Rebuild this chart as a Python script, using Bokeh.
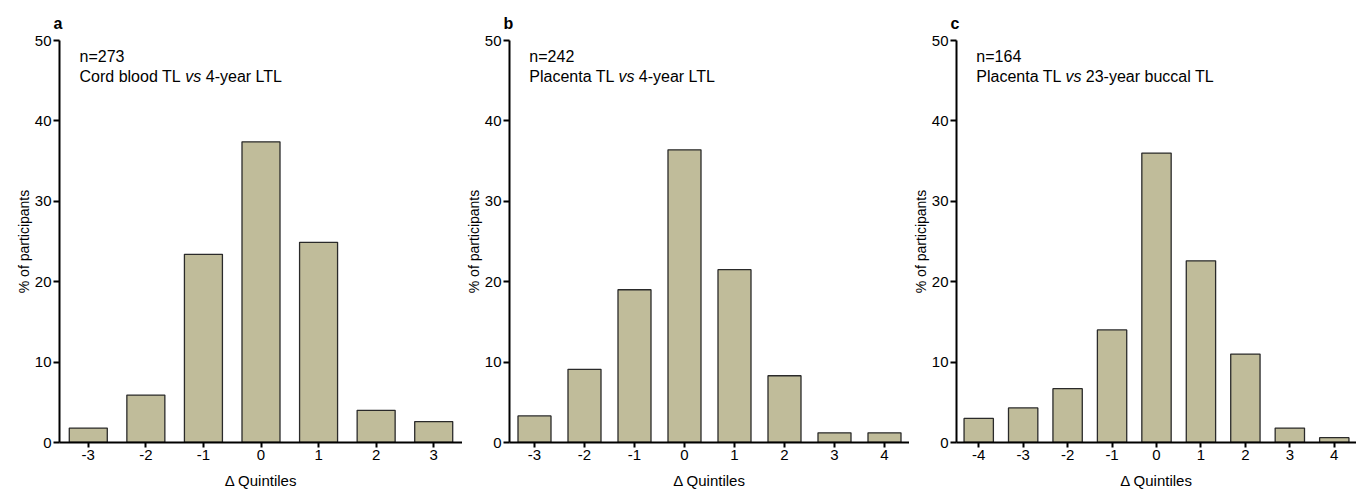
from bokeh.plotting import figure
from bokeh.layouts import row
from bokeh.models import Label, Range1d, FixedTicker
from bokeh.embed import file_html
from bokeh.resources import INLINE

# ---- data ----
cats_a = [-3, -2, -1, 0, 1, 2, 3]
vals_a = [1.8, 5.9, 23.4, 37.4, 24.9, 4.0, 2.6]
cats_b = [-3, -2, -1, 0, 1, 2, 3, 4]
vals_b = [3.3, 9.1, 19.0, 36.4, 21.5, 8.3, 1.2, 1.2]
cats_c = [-4, -3, -2, -1, 0, 1, 2, 3, 4]
vals_c = [3.0, 4.3, 6.7, 14.0, 36.0, 22.6, 11.0, 1.8, 0.6]
n_values = [273, 242, 164]
panel_letters = ["a", "b", "c"]
text_before = ["Cord blood TL", "Placenta TL", "Placenta TL"]
text_italic = ["vs", "vs", "vs"]
text_after = ["4-year LTL", "4-year LTL", "23-year buccal TL"]
y_ticks = [0, 10, 20, 30, 40, 50]
x_label = "\u0394 Quintiles"
y_label = "% of participants"

FONT = "Liberation Sans"
FILL = "#c0bc9a"

# Arial / Liberation Sans advance widths (per 1000 em)
AW = {" ": 278, "-": 333, "=": 584, "C": 722, "L": 556, "T": 611, "P": 667,
      "a": 556, "b": 556, "c": 500, "d": 556, "e": 556, "l": 222, "n": 556,
      "o": 556, "r": 333, "t": 278, "u": 556, "y": 500, "v": 500, "s": 500}
for d in "0123456789":
    AW[d] = 556


def text_width(s, size):
    return sum(AW.get(ch, 556) for ch in s) * size / 1000.0


FW, FH = 403, 402
TOP, BOTTOM = 40, 50
ANN = 16


def make(cats, vals, letter, n, pre, ital, post, left, total_w):
    xs, xe = min(cats) - 0.5, max(cats) + 0.5
    p = figure(width=total_w, height=TOP + FH + BOTTOM,
               x_range=Range1d(xs, xe), y_range=Range1d(0, 50),
               output_backend="svg", toolbar_location=None,
               min_border_left=left, min_border_right=0,
               min_border_top=TOP, min_border_bottom=BOTTOM)
    p.outline_line_color = None
    p.grid.visible = False
    p.background_fill_color = "white"
    p.border_fill_color = "white"

    p.title.text = letter
    p.title.align = "left"
    p.title.offset = -6
    p.title.standoff = 17
    p.title.text_font = FONT
    p.title.text_font_style = "bold"
    p.title.text_font_size = "16px"
    p.title.text_color = "black"

    p.vbar(x=cats, top=vals, width=0.66, bottom=0,
           fill_color=FILL, line_color="#2a2a2a", line_width=1.3)

    ppx = FW / (xe - xs)
    ppy = FH / 50.0

    for ax in (p.xaxis[0], p.yaxis[0]):
        ax.axis_line_width = 2
        ax.axis_line_color = "black"
        ax.major_tick_line_width = 2
        ax.major_tick_line_color = "black"
        ax.major_tick_in = 0
        ax.minor_tick_line_color = None
        ax.major_label_text_font = FONT
        ax.major_label_text_font_size = "15px"
        ax.major_label_text_color = "black"
        ax.axis_label_text_font = FONT
        ax.axis_label_text_font_style = "normal"
        ax.axis_label_text_color = "black"

    xa = p.xaxis[0]
    xa.ticker = FixedTicker(ticks=cats)
    xa.major_label_overrides = {c: str(c) for c in cats}
    xa.major_tick_out = 5
    xa.major_label_standoff = 2
    xa.axis_label = x_label
    xa.axis_label_text_font_size = "15px"
    xa.axis_label_standoff = 9

    ya = p.yaxis[0]
    ya.ticker = FixedTicker(ticks=y_ticks)
    ya.major_tick_out = 6
    ya.major_label_standoff = 2
    ya.axis_label = y_label
    ya.axis_label_text_font_size = "14px"
    ya.axis_label_standoff = 0

    x0 = xs + 20 / ppx
    y1 = 50 - 16 / ppy
    y2 = 50 - 36 / ppy
    p.add_layout(Label(x=x0, y=y1, text="n=%d" % n, text_align="left",
                       text_baseline="alphabetic", text_font=FONT,
                       text_font_size="%dpx" % ANN, text_color="black"))
    w1 = text_width(pre + " ", ANN) / ppx
    w2 = text_width(ital + " ", ANN) / ppx
    for xx, t, style in ((x0, pre, "normal"), (x0 + w1, ital, "italic"),
                         (x0 + w1 + w2, post, "normal")):
        p.add_layout(Label(x=xx, y=y2, text=t, text_align="left",
                           text_baseline="alphabetic", text_font=FONT,
                           text_font_style=style,
                           text_font_size="%dpx" % ANN, text_color="black"))
    return p


pa = make(cats_a, vals_a, panel_letters[0], n_values[0], text_before[0],
          text_italic[0], text_after[0], 59, 462)
pb = make(cats_b, vals_b, panel_letters[1], n_values[1], text_before[1],
          text_italic[1], text_after[1], 44, 447)
pc = make(cats_c, vals_c, panel_letters[2], n_values[2], text_before[2],
          text_italic[2], text_after[2], 44, 447)

layout = row(pa, pb, pc, spacing=0)
open("out.html", "w").write(file_html(layout, INLINE))
